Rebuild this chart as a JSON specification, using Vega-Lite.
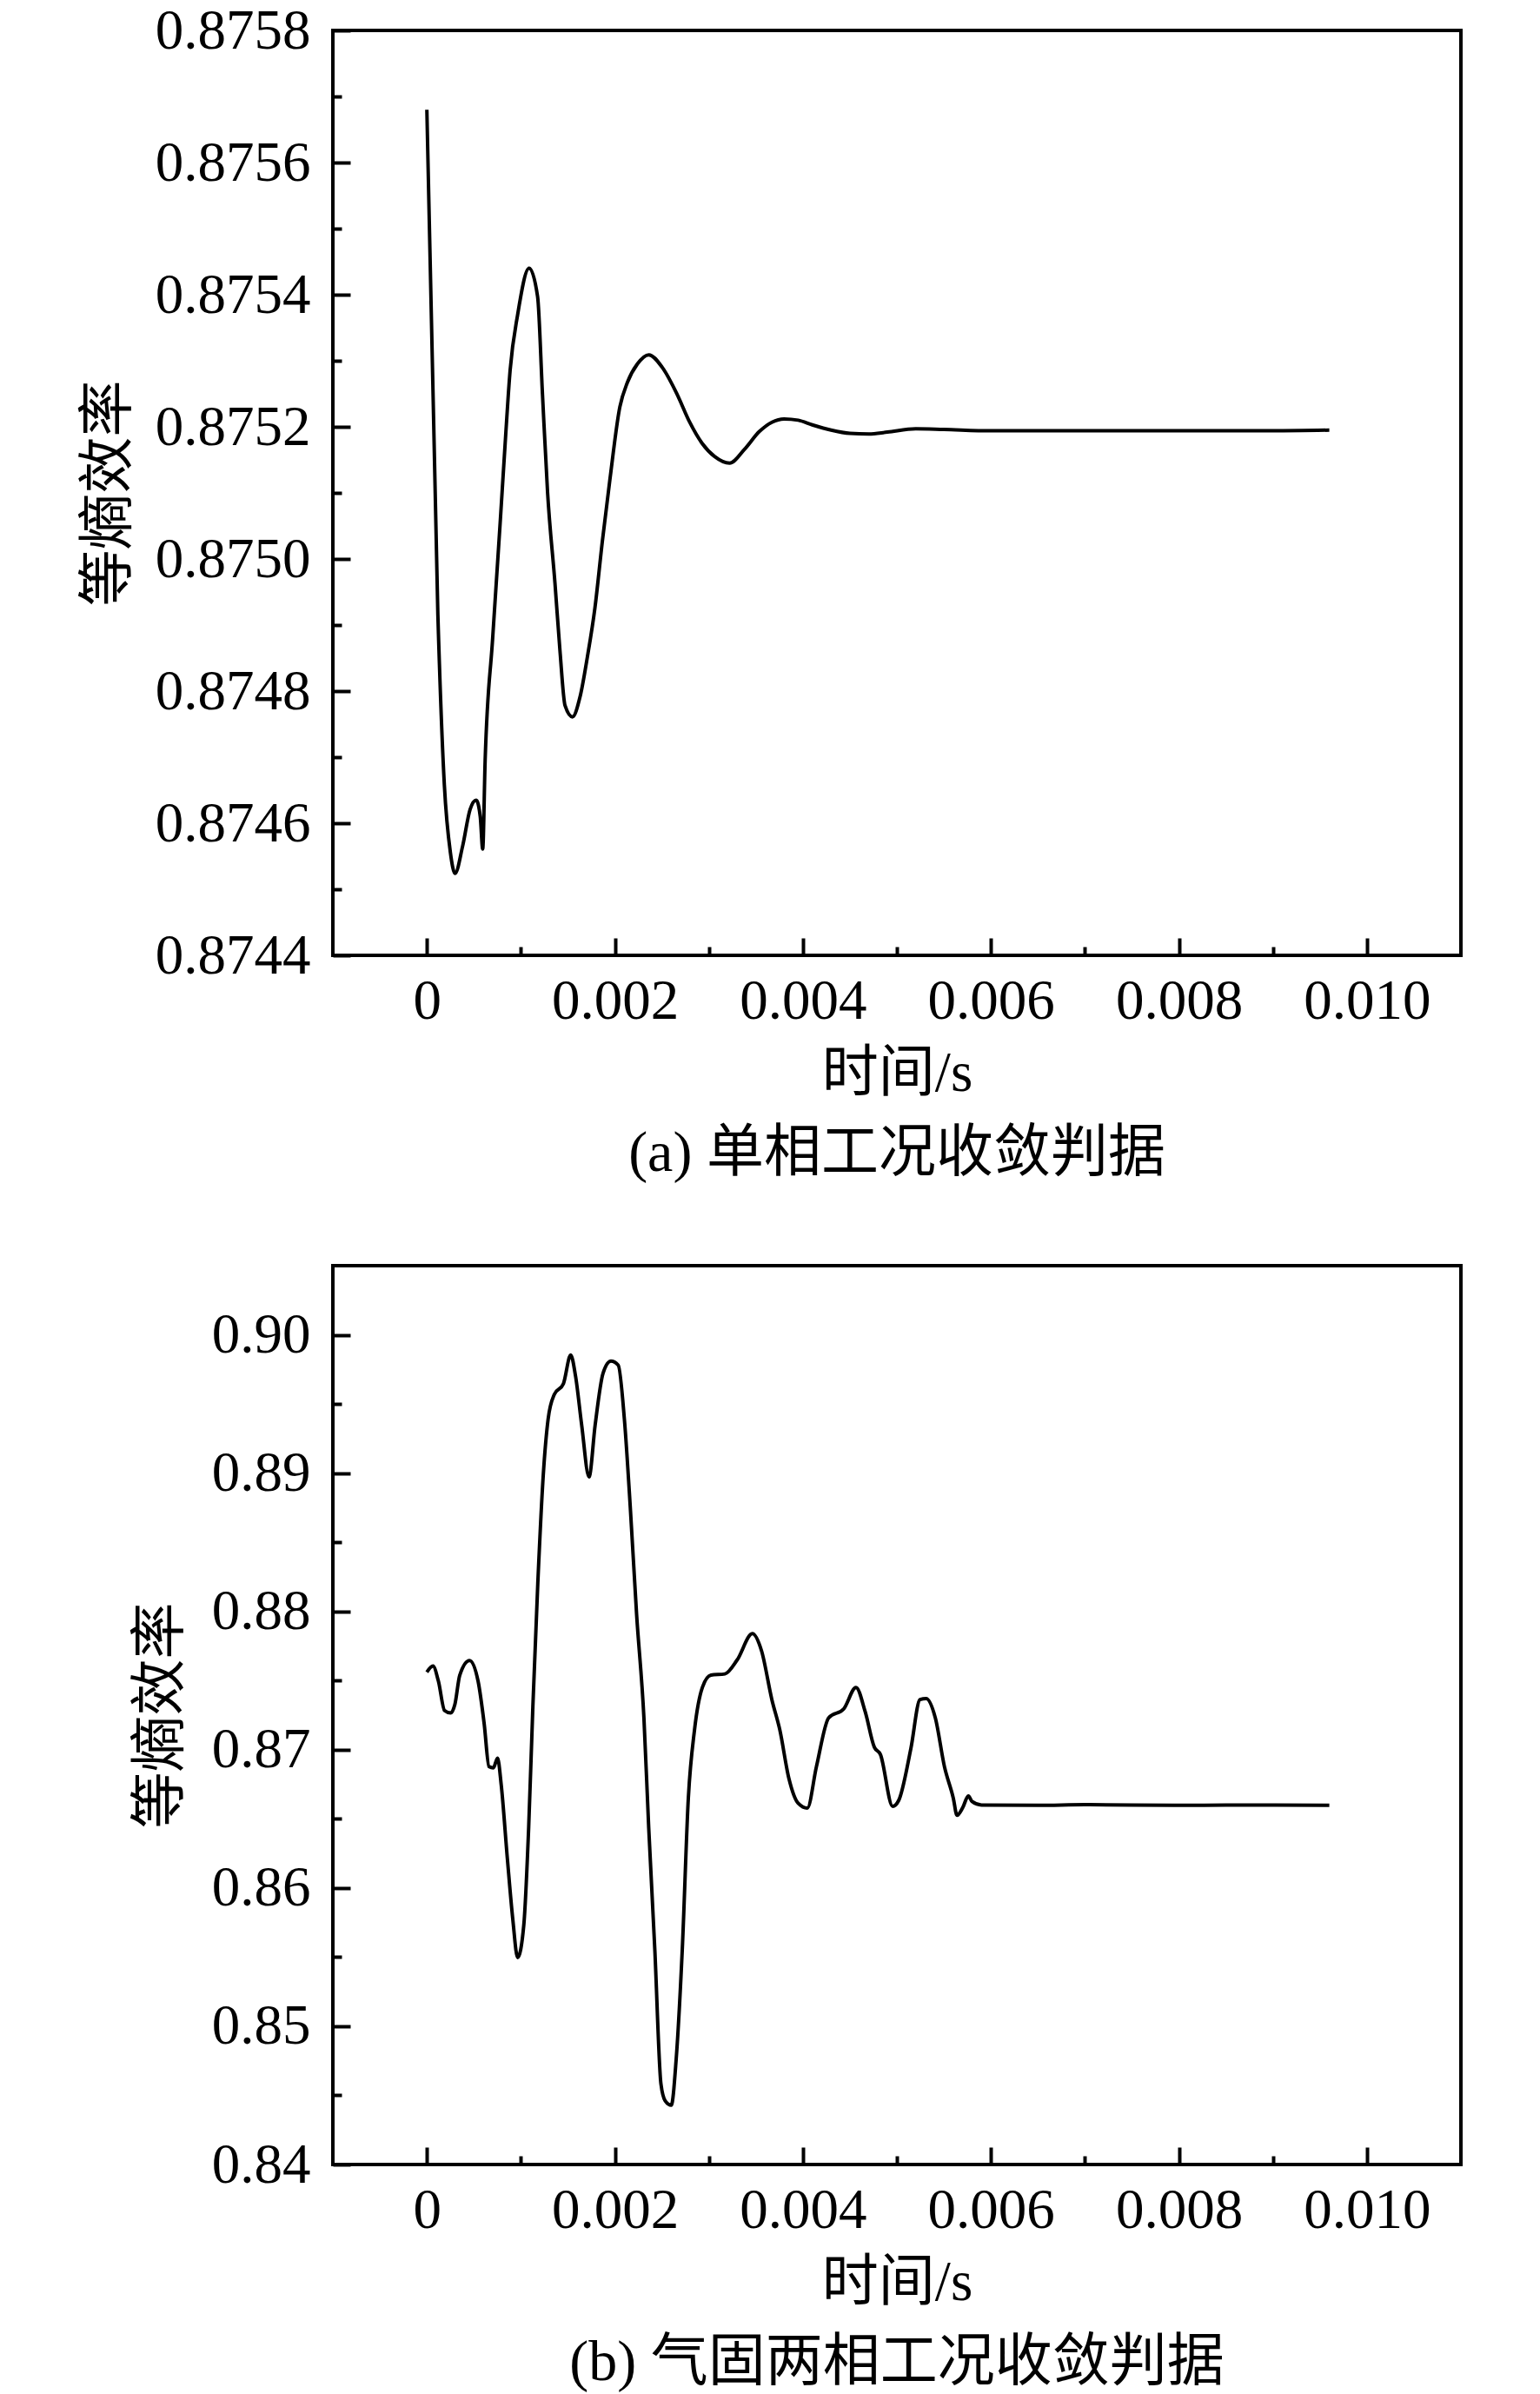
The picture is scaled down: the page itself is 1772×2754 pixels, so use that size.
{
  "$schema": "https://vega.github.io/schema/vega-lite/v6.json",
  "background": "white",
  "padding": {"top": 1, "left": 90, "right": 20, "bottom": 5},
  "spacing": 92,
  "config": {
    "font": "'Liberation Serif', 'Noto Sans CJK SC', serif",
    "view": {"stroke": "black", "strokeWidth": 4},
    "axis": {
      "domain": false,
      "grid": false,
      "labelFont": "'Liberation Serif', 'Noto Sans CJK SC', serif",
      "labelFontSize": 65,
      "labelColor": "black",
      "labelPadding": 46,
      "labelOverlap": false,
      "labelFlush": false,
      "titleFont": "'Liberation Serif', 'Noto Sans CJK SC', serif",
      "titleFontSize": 65,
      "titleFontWeight": "normal",
      "titleColor": "black",
      "tickColor": "black",
      "tickWidth": 4
    },
    "axisX": {"labelPadding": 41, "titlePadding": 9},
    "title": {
      "font": "'Liberation Serif', 'Noto Sans CJK SC', serif",
      "fontSize": 66,
      "fontWeight": "normal",
      "color": "black"
    }
  },
  "datasets": {
    "a": [
      {"t": 0, "v": 0.87568},
      {"t": 0.000117, "v": 0.874916},
      {"t": 0.000186, "v": 0.874658},
      {"t": 0.00025, "v": 0.874556},
      {"t": 0.0003, "v": 0.874524},
      {"t": 0.00038, "v": 0.874565},
      {"t": 0.00046, "v": 0.874621},
      {"t": 0.000525, "v": 0.874635},
      {"t": 0.000568, "v": 0.87461},
      {"t": 0.000594, "v": 0.874561},
      {"t": 0.00062, "v": 0.874695},
      {"t": 0.0007, "v": 0.87488},
      {"t": 0.00078, "v": 0.875055},
      {"t": 0.000833, "v": 0.875175},
      {"t": 0.000886, "v": 0.875286},
      {"t": 0.000966, "v": 0.87537},
      {"t": 0.001088, "v": 0.87544},
      {"t": 0.001178, "v": 0.875397},
      {"t": 0.00123, "v": 0.875249},
      {"t": 0.001284, "v": 0.875101},
      {"t": 0.001363, "v": 0.874963},
      {"t": 0.001416, "v": 0.874861},
      {"t": 0.00147, "v": 0.874778},
      {"t": 0.001549, "v": 0.874761},
      {"t": 0.001629, "v": 0.874791},
      {"t": 0.001708, "v": 0.874852},
      {"t": 0.001788, "v": 0.874926},
      {"t": 0.001867, "v": 0.875027},
      {"t": 0.001947, "v": 0.87512},
      {"t": 0.002053, "v": 0.87523},
      {"t": 0.002133, "v": 0.875267},
      {"t": 0.002239, "v": 0.875295},
      {"t": 0.002361, "v": 0.875309},
      {"t": 0.002504, "v": 0.87529},
      {"t": 0.002663, "v": 0.875249},
      {"t": 0.002796, "v": 0.875207},
      {"t": 0.002928, "v": 0.875175},
      {"t": 0.003061, "v": 0.875155},
      {"t": 0.00322, "v": 0.875145},
      {"t": 0.003379, "v": 0.875166},
      {"t": 0.003538, "v": 0.875193},
      {"t": 0.003671, "v": 0.875207},
      {"t": 0.0038, "v": 0.875212},
      {"t": 0.00395, "v": 0.87521},
      {"t": 0.0041, "v": 0.875203},
      {"t": 0.0043, "v": 0.875195},
      {"t": 0.0045, "v": 0.87519},
      {"t": 0.0047, "v": 0.875189},
      {"t": 0.0049, "v": 0.875192},
      {"t": 0.0052, "v": 0.875197},
      {"t": 0.0055, "v": 0.875196},
      {"t": 0.006, "v": 0.875194},
      {"t": 0.007, "v": 0.875194},
      {"t": 0.008, "v": 0.875194},
      {"t": 0.009, "v": 0.875194},
      {"t": 0.0096, "v": 0.875195}
    ],
    "b": [
      {"t": 0, "v": 0.87561},
      {"t": 0.000065, "v": 0.87605},
      {"t": 0.000123, "v": 0.87495},
      {"t": 0.000188, "v": 0.87283},
      {"t": 0.000253, "v": 0.87265},
      {"t": 0.000298, "v": 0.87327},
      {"t": 0.00035, "v": 0.87539},
      {"t": 0.000454, "v": 0.87645},
      {"t": 0.000545, "v": 0.87495},
      {"t": 0.00061, "v": 0.87186},
      {"t": 0.000661, "v": 0.86877},
      {"t": 0.000707, "v": 0.86868},
      {"t": 0.000752, "v": 0.86939},
      {"t": 0.000791, "v": 0.86745},
      {"t": 0.000856, "v": 0.86215},
      {"t": 0.000914, "v": 0.85774},
      {"t": 0.000966, "v": 0.85496},
      {"t": 0.001031, "v": 0.8573},
      {"t": 0.001083, "v": 0.86436},
      {"t": 0.001128, "v": 0.87318},
      {"t": 0.00118, "v": 0.882},
      {"t": 0.001239, "v": 0.88994},
      {"t": 0.00129, "v": 0.89391},
      {"t": 0.001355, "v": 0.89568},
      {"t": 0.001453, "v": 0.89647},
      {"t": 0.00153, "v": 0.89854},
      {"t": 0.001582, "v": 0.897},
      {"t": 0.001647, "v": 0.89347},
      {"t": 0.001725, "v": 0.88972},
      {"t": 0.00179, "v": 0.89347},
      {"t": 0.001874, "v": 0.89722},
      {"t": 0.001958, "v": 0.8981},
      {"t": 0.002036, "v": 0.8978},
      {"t": 0.002101, "v": 0.89391},
      {"t": 0.002166, "v": 0.8873},
      {"t": 0.002231, "v": 0.8798},
      {"t": 0.002309, "v": 0.8723},
      {"t": 0.00236, "v": 0.86436},
      {"t": 0.002425, "v": 0.85554},
      {"t": 0.00249, "v": 0.84583},
      {"t": 0.002536, "v": 0.8446},
      {"t": 0.0026, "v": 0.84429},
      {"t": 0.002652, "v": 0.8476},
      {"t": 0.002717, "v": 0.85554},
      {"t": 0.002782, "v": 0.86656},
      {"t": 0.002847, "v": 0.87142},
      {"t": 0.002931, "v": 0.8745},
      {"t": 0.003022, "v": 0.87539},
      {"t": 0.003171, "v": 0.87548},
      {"t": 0.003301, "v": 0.87649},
      {"t": 0.003463, "v": 0.87839},
      {"t": 0.00356, "v": 0.87715},
      {"t": 0.00367, "v": 0.87362},
      {"t": 0.003755, "v": 0.87142},
      {"t": 0.003852, "v": 0.86789},
      {"t": 0.00395, "v": 0.86612},
      {"t": 0.004047, "v": 0.86577},
      {"t": 0.004144, "v": 0.86877},
      {"t": 0.004274, "v": 0.8723},
      {"t": 0.004436, "v": 0.87296},
      {"t": 0.004565, "v": 0.8745},
      {"t": 0.004663, "v": 0.87274},
      {"t": 0.00476, "v": 0.87018},
      {"t": 0.004825, "v": 0.86965},
      {"t": 0.004955, "v": 0.8659},
      {"t": 0.00502, "v": 0.86634},
      {"t": 0.005149, "v": 0.87009},
      {"t": 0.005246, "v": 0.87362},
      {"t": 0.005311, "v": 0.8737},
      {"t": 0.005409, "v": 0.8723},
      {"t": 0.005506, "v": 0.86877},
      {"t": 0.0056, "v": 0.8665},
      {"t": 0.00564, "v": 0.86525},
      {"t": 0.0057, "v": 0.8658},
      {"t": 0.00576, "v": 0.86665},
      {"t": 0.0058, "v": 0.86625},
      {"t": 0.0059, "v": 0.866},
      {"t": 0.0065, "v": 0.86598},
      {"t": 0.007, "v": 0.86602},
      {"t": 0.008, "v": 0.86598},
      {"t": 0.009, "v": 0.866},
      {"t": 0.0096, "v": 0.86598}
    ]
  },
  "vconcat": [
    {
      "width": 1298,
      "height": 1064,
      "data": {"name": "a"},
      "title": {"text": "(a) 单相工况收敛判据", "orient": "bottom", "frame": "group", "anchor": "middle", "offset": 28},
      "mark": {"type": "line", "color": "black", "strokeWidth": 4, "interpolate": "monotone"},
      "encoding": {
        "x": {
          "field": "t",
          "type": "quantitative",
          "scale": {"domain": [-0.001, 0.011], "nice": false, "zero": false},
          "axis": {
            "title": "时间/s",
            "values": [0, 0.001, 0.002, 0.003, 0.004, 0.005, 0.006, 0.007, 0.008, 0.009, 0.01],
            "labelExpr": "round(datum.value * 1000) % 2 == 0 ? (datum.value == 0 ? '0' : format(datum.value, '.3f')) : ''",
            "tickSize": {"condition": {"test": "round(datum.value * 1000) % 2 == 0", "value": -20}, "value": -10}
          }
        },
        "y": {
          "field": "v",
          "type": "quantitative",
          "scale": {"domain": [0.8744, 0.8758], "nice": false, "zero": false},
          "axis": {
            "title": "等熵效率",
            "titlePadding": 25,
            "values": [0.8744, 0.8745, 0.8746, 0.8747, 0.8748, 0.8749, 0.875, 0.8751, 0.8752, 0.8753, 0.8754, 0.8755, 0.8756, 0.8757, 0.8758],
            "labelExpr": "round(datum.value * 10000) % 2 == 0 ? format(datum.value, '.4f') : ''",
            "tickSize": {"condition": {"test": "round(datum.value * 10000) % 2 == 0", "value": -20}, "value": -10}
          }
        }
      }
    },
    {
      "width": 1298,
      "height": 1034,
      "data": {"name": "b"},
      "title": {"text": "(b) 气固两相工况收敛判据", "orient": "bottom", "frame": "group", "anchor": "middle", "offset": 28},
      "mark": {"type": "line", "color": "black", "strokeWidth": 4, "interpolate": "monotone"},
      "encoding": {
        "x": {
          "field": "t",
          "type": "quantitative",
          "scale": {"domain": [-0.001, 0.011], "nice": false, "zero": false},
          "axis": {
            "title": "时间/s",
            "values": [0, 0.001, 0.002, 0.003, 0.004, 0.005, 0.006, 0.007, 0.008, 0.009, 0.01],
            "labelExpr": "round(datum.value * 1000) % 2 == 0 ? (datum.value == 0 ? '0' : format(datum.value, '.3f')) : ''",
            "tickSize": {"condition": {"test": "round(datum.value * 1000) % 2 == 0", "value": -20}, "value": -10}
          }
        },
        "y": {
          "field": "v",
          "type": "quantitative",
          "scale": {"domain": [0.84, 0.905], "nice": false, "zero": false},
          "axis": {
            "title": "等熵效率",
            "titlePadding": 25,
            "values": [0.84, 0.845, 0.85, 0.855, 0.86, 0.865, 0.87, 0.875, 0.88, 0.885, 0.89, 0.895, 0.9],
            "labelExpr": "round(datum.value * 1000) % 10 == 0 ? format(datum.value, '.2f') : ''",
            "tickSize": {"condition": {"test": "round(datum.value * 1000) % 10 == 0", "value": -20}, "value": -10}
          }
        }
      }
    }
  ]
}
